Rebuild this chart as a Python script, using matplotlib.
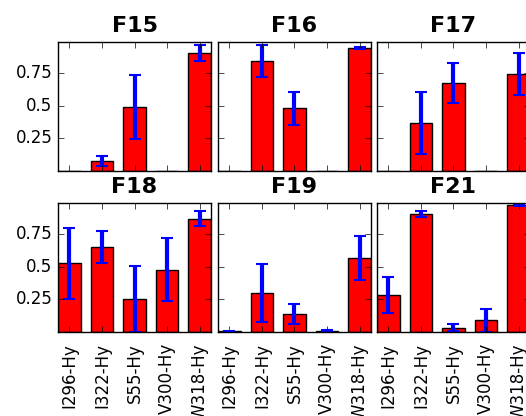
import numpy as np
import matplotlib
matplotlib.use('Agg')
import matplotlib.pyplot as plt

plt.style.use('classic')
plt.rcParams['figure.facecolor'] = 'white'
plt.rcParams['savefig.facecolor'] = 'white'

labels = ['I296-Hy', 'I322-Hy', 'S55-Hy', 'V300-Hy', 'W318-Hy']
titles = ['F15', 'F16', 'F17', 'F18', 'F19', 'F21']

# mean fraction per site, and its error
f15 = [0.0, 0.078, 0.49, 0.0, 0.907]
f15_err = [0.0, 0.04, 0.245, 0.0, 0.06]
f16 = [0.0, 0.845, 0.48, 0.0, 0.944]
f16_err = [0.0, 0.12, 0.13, 0.0, 0.005]
f17 = [0.0, 0.369, 0.674, 0.0, 0.745]
f17_err = [0.0, 0.24, 0.154, 0.0, 0.162]
f18 = [0.528, 0.652, 0.253, 0.479, 0.87]
f18_err = [0.274, 0.122, 0.25, 0.24, 0.055]
f19 = [0.005, 0.30, 0.138, 0.009, 0.569]
f19_err = [0.005, 0.22, 0.08, 0.005, 0.17]
f21 = [0.284, 0.906, 0.032, 0.089, 0.976]
f21_err = [0.137, 0.025, 0.027, 0.09, 0.01]

means = [f15, f16, f17, f18, f19, f21]
errs = [f15_err, f16_err, f17_err, f18_err, f19_err, f21_err]

fig = plt.figure(figsize=(5.26, 4.16), dpi=100)

# the right column runs a little past the figure edge (cropped original)
lefts = [0.1103, 0.4144, 0.7167]
bottoms = [0.5889, 0.2019]
w, h = 0.2909, 0.3101

x = np.arange(len(labels))
for k in range(6):
    row, col = k // 3, k % 3
    ax = fig.add_axes([lefts[col], bottoms[row], w, h])
    ax.bar(x, means[k], width=0.7, align='center', color='red', edgecolor='black', linewidth=1)
    m = np.array(means[k])
    e = np.array(errs[k])
    keep = e > 0
    ax.errorbar(x[keep], m[keep], yerr=e[keep], fmt='none', ecolor='blue',
                elinewidth=3, capsize=4, capthick=1.5)
    ax.set_xlim(-0.35, 4.35)
    ax.set_ylim(0, 0.99)
    ax.set_yticks([0.25, 0.5, 0.75])
    ax.set_xticks(x)
    if col == 0:
        ax.set_yticklabels(['0.25', '0.5', '0.75'], fontsize=12)
    else:
        ax.set_yticklabels([])
    if row == 1:
        ax.set_xticklabels(labels, rotation=90, fontsize=12)
        ax.tick_params(axis='x', pad=8)
    else:
        ax.set_xticklabels([])
    ax.set_title(titles[k], fontsize=16, fontweight='bold', y=1.02)

plt.savefig('out.png', dpi=100)
